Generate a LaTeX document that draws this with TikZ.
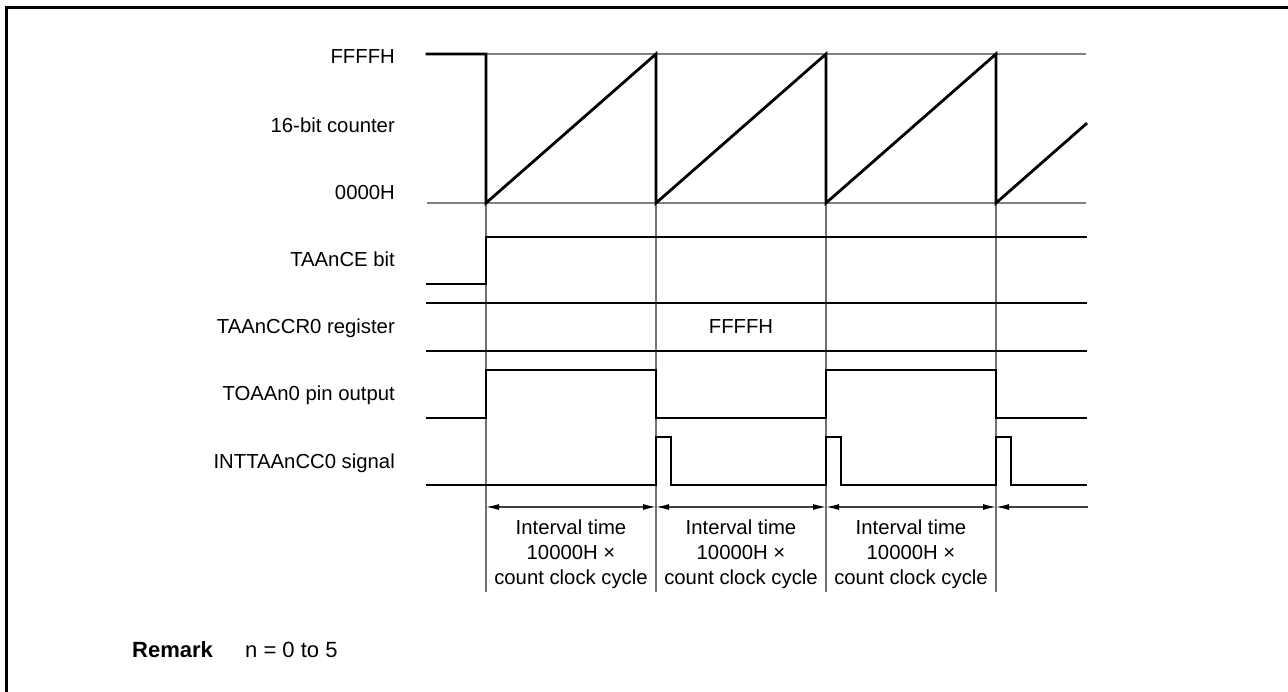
\documentclass[tikz,border=0pt]{standalone}
\usepackage{fontspec}
\setmainfont{Liberation Sans}
\usetikzlibrary{arrows.meta}
\begin{document}
\begin{tikzpicture}[x=1pt,y=-1pt,
  wave/.style={line width=2.8pt, line join=miter, line cap=rect},
  guide/.style={line width=1.1pt, black!55},
  refline/.style={line width=1.4pt, black!50},
  lbl/.style={anchor=base east, font=\fontsize{20.3}{24}\selectfont, inner sep=0pt},
  txt/.style={font=\fontsize{20.3}{24}\selectfont, inner sep=0pt},
  interval/.style={align=center, font=\fontsize{20.3}{25}\selectfont, inner sep=0pt},
  dimarrow/.style={line width=1.2pt, black!75, {Latex[length=13pt,width=6pt,color=black]}-{Latex[length=13pt,width=6pt,color=black]}},
  dimarrowl/.style={line width=1.2pt, black!75, {Latex[length=13pt,width=6pt,color=black]}-},
]
\useasboundingbox (0,0) rectangle (1288,692);
% frame
\draw[line width=3pt] (6.5,700) -- (6.5,7.5) -- (1295,7.5);

% vertical guides
\foreach \x in {486,656,826,996}{
  \draw[guide] (\x,54) -- (\x,592);
}
% reference lines of counter
\draw[refline] (427,54) -- (1086,54);
\draw[refline] (427,203) -- (1086,203);

% labels
\node[lbl] (lffff) at (395,64) {FFFFH};
\node[lbl] (lcnt) at (395,133) {16-bit counter};
\node[lbl] (l0000) at (395,200) {0000H};
\node[lbl] (lce) at (395,267) {TAAnCE bit};
\node[lbl] (lccr) at (395,334) {TAAnCCR0 register};
\node[lbl] (lto) at (395,401) {TOAAn0 pin output};
\node[lbl] (lint) at (395,468) {INTTAAnCC0 signal};

% counter
\draw[wave] (427,54) -- (486,54) -- (486,203) -- (656,54) -- (656,203) -- (826,54) -- (826,203) -- (996,54) -- (996,203) -- (1086,124);
% TAAnCE
\draw[wave] (427,284) -- (486,284) -- (486,237) -- (1086,237);
% register
\draw[wave] (427,303) -- (1086,303);
\draw[wave] (427,351) -- (1086,351);
\node[txt, anchor=base] (vccr) at (741,334) {FFFFH};
% TOAAn0
\draw[wave] (427,418) -- (486,418) -- (486,370) -- (656,370) -- (656,418) -- (826,418) -- (826,370) -- (996,370) -- (996,418) -- (1086,418);
% INTTAAnCC0
\draw[wave] (427,485) -- (656,485) -- (656,437) -- (671,437) -- (671,485) -- (826,485) -- (826,437) -- (841,437) -- (841,485) -- (996,485) -- (996,437) -- (1011,437) -- (1011,485) -- (1086,485);

% interval arrows
\coordinate (g1) at (486,507);
\coordinate (g2) at (656,507);
\coordinate (g3) at (826,507);
\coordinate (g4) at (996,507);
\coordinate (gend) at (1088,507);
\draw[dimarrow] (g1) -- (g2);
\draw[dimarrow] (g2) -- (g3);
\draw[dimarrow] (g3) -- (g4);
\draw[dimarrowl] (g4) -- (gend);

\node[interval] (i1) at (571,554) {Interval time\\10000H ×\\count clock cycle};
\node[interval] (i2) at (741,554) {Interval time\\10000H ×\\count clock cycle};
\node[interval] (i3) at (911,554) {Interval time\\10000H ×\\count clock cycle};

% remark
\node[txt, anchor=base west, font=\fontsize{22}{26}\selectfont\bfseries] (rem) at (132,657) {Remark};
\node[txt, anchor=base west, font=\fontsize{22}{26}\selectfont] (remt) at (245,657) {n = 0 to 5};
\end{tikzpicture}
\end{document}
